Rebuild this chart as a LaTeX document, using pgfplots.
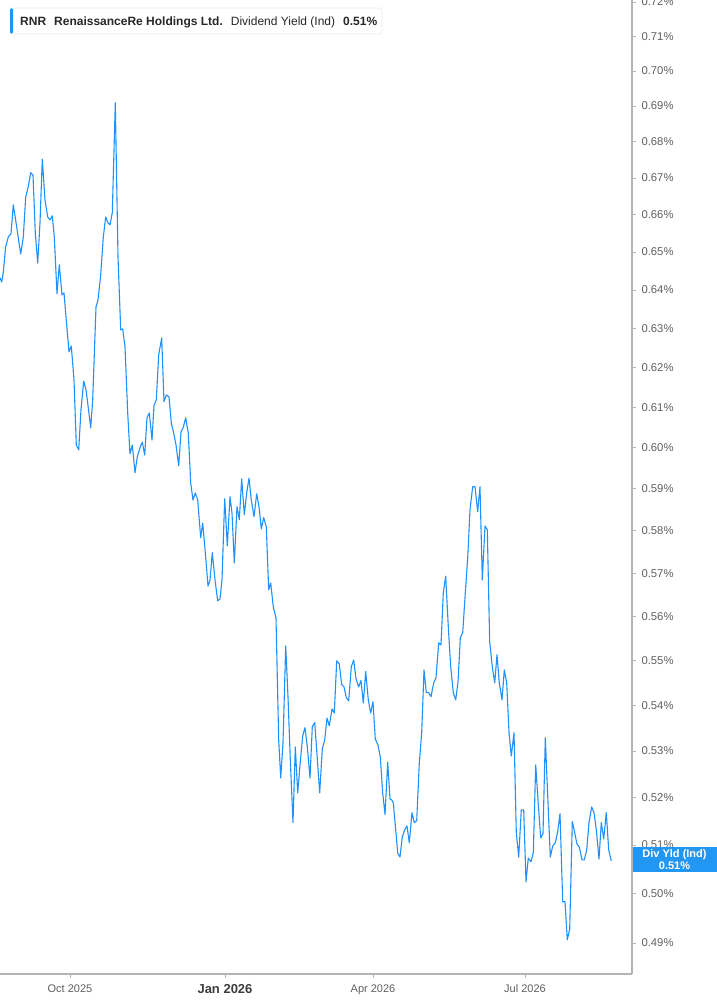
\documentclass[border=0pt]{standalone}
\usepackage{pgfplots}
\pgfplotsset{compat=1.18}
\usepackage{fontspec}
\setmainfont{Liberation Sans}
\definecolor{lineblue}{RGB}{30,144,255}
\definecolor{boxblue}{RGB}{33,150,243}
\definecolor{axgray}{RGB}{180,180,180}
\definecolor{ticktext}{RGB}{95,95,95}
\definecolor{legtext}{RGB}{40,40,40}
\begin{document}
\begin{tikzpicture}[x=1pt,y=1pt]
\path[use as bounding box] (0,-31) rectangle (717,974);
\begin{axis}[
  at={(0,0)}, anchor=south west,
  scale only axis, width=632pt, height=974pt,
  xmin=0, xmax=632,
  ymode=log, ymin=0.4838, ymax=0.7206,
  axis x line*=bottom, axis y line*=right,
  axis line style={draw=axgray, line width=1.3pt, -},
  tick style={draw=axgray, line width=0.8pt},
  tick align=outside, major tick length=4pt,
  xtick={70,225,373,525},
  xticklabels={Oct 2025,{\fontsize{13}{14}\selectfont\bfseries\color{legtext!90}Jan 2026},Apr 2026,Jul 2026},
  x tick label style={font=\fontsize{11}{12}\selectfont, text=ticktext, yshift=-3pt},
  ytick={0.49,0.50,0.51,0.52,0.53,0.54,0.55,0.56,0.57,0.58,0.59,0.60,0.61,0.62,0.63,0.64,0.65,0.66,0.67,0.68,0.69,0.70,0.71,0.72},
  yticklabels={0.49\%,0.50\%,0.51\%,0.52\%,0.53\%,0.54\%,0.55\%,0.56\%,0.57\%,0.58\%,0.59\%,0.60\%,0.61\%,0.62\%,0.63\%,0.64\%,0.65\%,0.66\%,0.67\%,0.68\%,0.69\%,0.70\%,0.71\%,0.72\%},
  y tick label style={font=\fontsize{11.3}{12}\selectfont, text=ticktext, xshift=2pt},
  minor tick num=0,
  clip=true,
]
\addplot[lineblue, line width=1.1pt, line join=round] coordinates {
(0,0.6432)(1.7,0.6421)(3.3,0.6447)(5.7,0.6514)(8.3,0.6540)(11,0.6549)(13.3,0.6627)(16.7,0.6567)(20.7,0.6495)(23.3,0.6540)
(25.7,0.6648)(28,0.6673)(30.7,0.6714)(33,0.6708)(35.3,0.6551)(37.7,0.6471)(40,0.6578)(42.3,0.6752)(45,0.6640)(47.7,0.6594)
(50,0.6586)(52.3,0.6597)(54.3,0.6540)(57,0.6390)(59.3,0.6466)(62,0.6387)(64,0.6392)(66.7,0.6309)(69,0.6240)(71.3,0.6255)
(74,0.6169)(76.3,0.6007)(78.7,0.5995)(81,0.6094)(83.7,0.6166)(86,0.6144)(88.3,0.6099)(90.7,0.6049)(92.7,0.6119)(96,0.6356)
(98,0.6374)(100.7,0.6440)(103.3,0.6540)(105.7,0.6594)(108,0.6578)(110,0.6573)(112.3,0.6605)(115.3,0.6909)(118,0.6487)(120.7,0.6296)
(122.7,0.6299)(125,0.6253)(127.7,0.6086)(130,0.5985)(132.3,0.6007)(135,0.5939)(137.3,0.5978)(140,0.6000)(142.3,0.6014)(144.7,0.5982)
(147,0.6074)(149.3,0.6086)(152,0.6019)(154,0.6104)(156.3,0.6119)(158.7,0.6232)(161.7,0.6276)(164,0.6114)(166.3,0.6131)(169,0.6126)
(171.3,0.6061)(173.7,0.6036)(176,0.6007)(178.7,0.5956)(181,0.6039)(183.3,0.6051)(185.7,0.6074)(188.3,0.6036)(190.7,0.5914)(193,0.5873)
(195.3,0.5890)(197.7,0.5873)(200.7,0.5783)(202.7,0.5818)(205.3,0.5748)(208,0.5670)(210,0.5684)(212.3,0.5748)(215,0.5684)(217.7,0.5636)
(220,0.5640)(222,0.5684)(224.7,0.5876)(227.3,0.5764)(230,0.5881)(232,0.5842)(234.3,0.5724)(237,0.5857)(239.3,0.5826)(241.7,0.5924)
(244.3,0.5838)(246.7,0.5890)(249,0.5926)(251.3,0.5873)(254,0.5833)(256.7,0.5888)(259,0.5857)(261.3,0.5804)(263.7,0.5831)(266.3,0.5809)
(268.7,0.5661)(270.7,0.5677)(273.3,0.5622)(276,0.5596)(278.7,0.5324)(280.7,0.5242)(283,0.5318)(285.7,0.5533)(288,0.5419)(290.3,0.5281)
(293,0.5147)(295.3,0.5309)(297.7,0.5210)(300,0.5270)(302.7,0.5333)(305,0.5351)(307.3,0.5309)(310,0.5242)(312.3,0.5353)(314.7,0.5362)
(317,0.5292)(319.7,0.5210)(322.3,0.5305)(324.7,0.5324)(327,0.5372)(329.3,0.5355)(332,0.5392)(334.3,0.5383)(336.7,0.5499)(339.3,0.5492)
(341.7,0.5446)(344,0.5441)(346.3,0.5417)(348.7,0.5410)(351.3,0.5486)(353.7,0.5501)(356,0.5459)(358.7,0.5441)(361,0.5455)(363.3,0.5405)
(365.7,0.5475)(368.3,0.5412)(370.7,0.5383)(373,0.5408)(375.3,0.5326)(378,0.5313)(380.3,0.5287)(382.7,0.5210)(385,0.5164)(387.7,0.5276)
(390,0.5197)(391.7,0.5195)(393.3,0.5189)(395.7,0.5132)(397.7,0.5084)(400,0.5075)(402.3,0.5117)(404.7,0.5132)(407,0.5140)(409.3,0.5105)
(412,0.5168)(414.3,0.5147)(416.7,0.5151)(419.3,0.5274)(421.7,0.5340)(424,0.5479)(426.3,0.5428)(428.7,0.5428)(431,0.5419)(433.7,0.5450)
(436,0.5461)(438.7,0.5540)(441,0.5535)(443.3,0.5654)(445.7,0.5693)(448.3,0.5576)(450.7,0.5486)(453.3,0.5428)(455.7,0.5412)(458,0.5452)
(460.3,0.5551)(462.7,0.5563)(465.3,0.5654)(467.7,0.5736)(470,0.5850)(472.7,0.5905)(475,0.5905)(477.7,0.5845)(480,0.5905)(482.3,0.5684)
(485,0.5811)(487.3,0.5802)(489.7,0.5542)(492.3,0.5486)(494.7,0.5450)(497,0.5513)(499.3,0.5450)(502,0.5412)(504.3,0.5479)(506.7,0.5450)
(509,0.5340)(511.3,0.5289)(514,0.5340)(516.3,0.5126)(518.7,0.5075)(521.3,0.5174)(523.7,0.5174)(526,0.5024)(528.3,0.5073)(531,0.5065)
(533.3,0.5084)(535.7,0.5270)(538,0.5195)(540.7,0.5115)(543,0.5124)(545.3,0.5329)(548,0.5189)(550.3,0.5075)(552.7,0.5098)(555.3,0.5105)
(557.7,0.5128)(560,0.5166)(562.7,0.4983)(565,0.4983)(567.3,0.4906)(569.7,0.4928)(572.3,0.5149)(574.7,0.5126)(577,0.5102)(579.3,0.5096)
(582,0.5069)(584.3,0.5069)(586.7,0.5090)(589,0.5147)(591.7,0.5180)(594,0.5168)(596.3,0.5132)(599,0.5071)(601.3,0.5147)(603.7,0.5113)
(606.3,0.5168)(608.7,0.5090)(611.3,0.5067)
};
\end{axis}
% end-of-line value label
\fill[boxblue] (632.5,974-871.7) rectangle (717,974-847.3);
\node[text=white, font=\fontsize{11}{11.8}\selectfont\bfseries, align=center, inner sep=0pt] at (674.5,974-859.5) {Div Yld (Ind)\\0.51\%};
% legend box
\draw[rounded corners=2.5pt, draw=black!8, fill=white, line width=0.6pt] (10,974-8) rectangle (382,974-34);
\fill[boxblue, rounded corners=1.2pt] (10,974-8.3) rectangle (13,974-33.7);
\node[anchor=base west, inner sep=0pt, text=legtext, font=\fontsize{12}{13}\selectfont] at (20,974-25.5)
  {\textbf{RNR}\hspace{8pt}\textbf{RenaissanceRe Holdings Ltd.}\hspace{8pt}Dividend Yield (Ind)\hspace{8pt}\textbf{0.51\%}};
\end{tikzpicture}
\end{document}
